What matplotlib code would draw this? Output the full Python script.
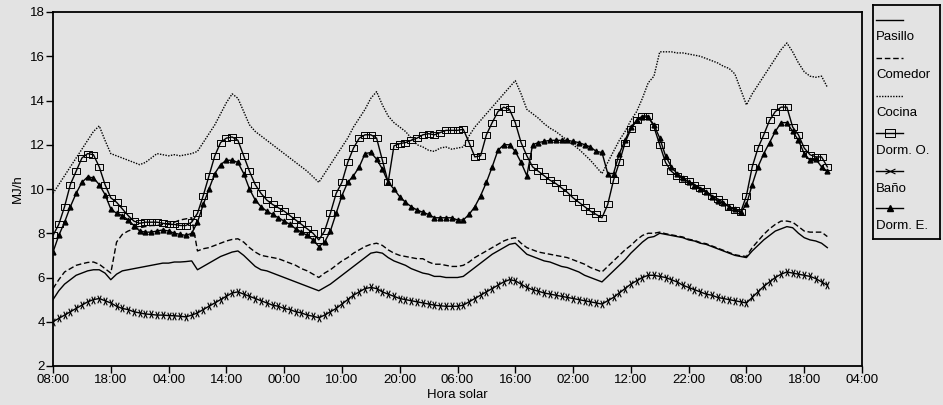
import numpy as np
import matplotlib
matplotlib.use("Agg")
import matplotlib.pyplot as plt
from matplotlib.path import Path

# ---------------- data (hourly, starting 08:00 day 1) ----------------
tick_labels = ["08:00", "18:00", "04:00", "14:00", "00:00", "10:00", "20:00",
               "06:00", "16:00", "02:00", "12:00", "22:00", "08:00", "18:00", "04:00"]
series_names = ["Pasillo", "Comedor", "Cocina", "Dorm. O.", "Baño", "Dorm. E."]

pasillo = [5.0, 5.4, 5.7, 5.9, 6.1, 6.2, 6.3, 6.35, 6.35, 6.2,
           5.9, 6.15, 6.3, 6.35, 6.4, 6.45, 6.5, 6.55, 6.6, 6.65,
           6.65, 6.7, 6.7, 6.72, 6.75, 6.35, 6.5, 6.65, 6.8, 6.95,
           7.05, 7.15, 7.2, 7.0, 6.75, 6.5, 6.35, 6.3, 6.2, 6.1,
           6.0, 5.9, 5.8, 5.7, 5.6, 5.5, 5.4, 5.55, 5.7, 5.9,
           6.1, 6.3, 6.5, 6.7, 6.9, 7.1, 7.15, 7.1, 6.9, 6.75,
           6.65, 6.55, 6.4, 6.3, 6.2, 6.15, 6.05, 6.05, 6.0, 6.0,
           6.0, 6.05, 6.25, 6.45, 6.65, 6.85, 7.05, 7.2, 7.35, 7.5,
           7.55, 7.3, 7.05, 6.95, 6.85, 6.75, 6.7, 6.6, 6.5, 6.45,
           6.35, 6.25, 6.1, 6.0, 5.9, 5.8, 6.05, 6.3, 6.55, 6.8,
           7.1, 7.35, 7.6, 7.8, 7.85, 8.0, 7.95, 7.9, 7.85, 7.8,
           7.7, 7.65, 7.55, 7.5, 7.4, 7.3, 7.2, 7.1, 7.0, 6.95,
           6.9, 7.2, 7.45, 7.7, 7.9, 8.1, 8.2, 8.3, 8.25, 8.0,
           7.8, 7.7, 7.65, 7.55, 7.35]

comedor = [5.5, 5.9, 6.25, 6.4, 6.55, 6.62, 6.68, 6.7, 6.6, 6.4,
           6.2, 7.6, 7.95, 8.1, 8.2, 8.25, 8.3, 8.35, 8.35, 8.4,
           8.45, 8.5, 8.6, 8.65, 8.7, 7.2, 7.3, 7.35, 7.45, 7.55,
           7.65, 7.72, 7.75, 7.6, 7.35, 7.15, 7.0, 6.95, 6.9, 6.85,
           6.75, 6.65, 6.55, 6.4, 6.3, 6.15, 6.0, 6.2, 6.35, 6.55,
           6.75, 6.9, 7.1, 7.25, 7.4, 7.5, 7.55, 7.45, 7.25, 7.1,
           7.0, 6.95, 6.9, 6.85, 6.85, 6.7, 6.6, 6.6, 6.55, 6.5,
           6.5, 6.55, 6.7, 6.9, 7.05, 7.2, 7.35, 7.5, 7.65, 7.75,
           7.8, 7.55, 7.35, 7.25, 7.15, 7.1, 7.05, 7.0, 6.95, 6.9,
           6.8, 6.7, 6.6, 6.45, 6.35, 6.25, 6.5, 6.75, 7.0, 7.25,
           7.45, 7.7, 7.9, 8.0, 8.0, 8.05, 7.98, 7.93, 7.88, 7.83,
           7.73, 7.68, 7.58, 7.53, 7.43, 7.33, 7.23, 7.13, 7.03, 6.98,
           6.95, 7.35, 7.65, 7.95, 8.2, 8.4, 8.55, 8.55, 8.5, 8.3,
           8.1, 8.05, 8.05, 8.05, 7.85]

cocina = [9.8, 10.2, 10.6, 11.0, 11.4, 11.8, 12.2, 12.6, 12.85, 12.2,
          11.6, 11.5, 11.4, 11.3, 11.2, 11.1, 11.2, 11.4, 11.6, 11.55,
          11.5, 11.55, 11.5, 11.55, 11.6, 11.7, 12.1, 12.5, 12.9, 13.4,
          13.9, 14.3, 14.1, 13.5, 12.9, 12.6, 12.4, 12.2, 12.0, 11.8,
          11.6, 11.4, 11.2, 11.0, 10.8, 10.55, 10.3, 10.7, 11.1, 11.5,
          11.9, 12.3, 12.8, 13.2, 13.6, 14.1, 14.4, 13.8, 13.3, 13.0,
          12.8, 12.6, 12.3, 12.0, 11.9, 11.75, 11.7, 11.85, 11.9, 11.8,
          11.85, 11.9, 12.4, 12.8, 13.1, 13.4, 13.7, 14.0, 14.3, 14.6,
          14.9, 14.3, 13.6, 13.4, 13.2, 12.95, 12.75, 12.6, 12.4, 12.2,
          12.0, 11.8, 11.55, 11.3, 11.0, 10.7, 11.2, 11.7, 12.2, 12.6,
          13.1, 13.5, 14.1, 14.8, 15.1, 16.2, 16.2, 16.2, 16.15, 16.15,
          16.1, 16.05, 16.0, 15.9, 15.8, 15.7, 15.55, 15.45, 15.2, 14.5,
          13.8, 14.3, 14.7, 15.1, 15.5, 15.9, 16.3, 16.6, 16.2, 15.7,
          15.3, 15.1, 15.05, 15.1, 14.6]

dorm_o = [7.9, 8.4, 9.2, 10.2, 10.8, 11.4, 11.6, 11.55, 11.0, 10.2,
          9.6, 9.4, 9.1, 8.8, 8.55, 8.45, 8.5, 8.5, 8.5, 8.45,
          8.4, 8.4, 8.35, 8.35, 8.5, 8.9, 9.7, 10.6, 11.5, 12.1,
          12.3, 12.35, 12.2, 11.5, 10.8, 10.2, 9.8, 9.5, 9.3, 9.15,
          9.0, 8.8, 8.6, 8.4, 8.2, 8.0, 7.7, 8.1, 8.9, 9.8,
          10.3, 11.2, 11.85, 12.3, 12.45, 12.45, 12.3, 11.3, 10.3, 11.95,
          12.05, 12.1, 12.2, 12.3, 12.45, 12.5, 12.45, 12.55, 12.65, 12.65,
          12.65, 12.7, 12.1, 11.45, 11.5, 12.45, 13.0, 13.5, 13.7, 13.6,
          13.0, 12.1, 11.5, 11.0, 10.8, 10.6, 10.4, 10.25, 10.05, 9.85,
          9.6, 9.4, 9.2, 9.0, 8.85, 8.7, 9.3, 10.4, 11.2, 12.1,
          12.7, 13.1, 13.3, 13.3, 12.8, 12.0, 11.2, 10.8, 10.6, 10.45,
          10.35, 10.2, 10.05, 9.9, 9.7, 9.55, 9.4, 9.2, 9.05, 8.95,
          9.7, 11.0, 11.85, 12.45, 13.1, 13.5, 13.7, 13.7, 12.8, 12.45,
          11.85, 11.55, 11.45, 11.45, 11.0]

bano = [4.0, 4.15, 4.3, 4.45, 4.6, 4.75, 4.9, 5.0, 5.05, 4.95,
        4.85, 4.7, 4.6, 4.55, 4.45, 4.4, 4.35, 4.33, 4.3, 4.3,
        4.28, 4.27, 4.25, 4.22, 4.3, 4.4, 4.55, 4.7, 4.85, 5.0,
        5.15, 5.3, 5.35, 5.25, 5.15, 5.05, 4.95, 4.85, 4.75, 4.7,
        4.6, 4.55, 4.45, 4.4, 4.3, 4.25, 4.18, 4.3, 4.45, 4.6,
        4.8, 5.0, 5.2, 5.35, 5.5, 5.55, 5.5, 5.35, 5.25, 5.15,
        5.05, 5.0, 4.95, 4.9, 4.85, 4.8, 4.75, 4.72, 4.7, 4.7,
        4.7, 4.75, 4.9, 5.05, 5.2, 5.35, 5.5, 5.65, 5.8, 5.9,
        5.85, 5.7, 5.55, 5.45, 5.38, 5.3, 5.25, 5.2, 5.15, 5.1,
        5.05, 5.0, 4.95, 4.9, 4.85, 4.8, 4.95, 5.1, 5.3, 5.5,
        5.7, 5.85, 6.0, 6.1, 6.1, 6.05, 6.0, 5.9, 5.8, 5.65,
        5.55, 5.45, 5.35, 5.25, 5.2, 5.1, 5.05, 5.0, 4.95, 4.9,
        4.85, 5.1, 5.35, 5.6, 5.8, 6.0, 6.15, 6.25, 6.2, 6.15,
        6.1, 6.05, 5.95, 5.8, 5.65]

dorm_e = [7.15, 7.9, 8.5, 9.2, 9.8, 10.3, 10.55, 10.5, 10.2, 9.75,
          9.1, 8.9, 8.8, 8.6, 8.35, 8.1, 8.05, 8.05, 8.1, 8.15,
          8.1, 8.0, 7.95, 7.9, 8.0, 8.5, 9.3, 10.0, 10.7, 11.1,
          11.3, 11.3, 11.2, 10.7, 10.0, 9.5, 9.2, 9.0, 8.85, 8.7,
          8.55, 8.4, 8.2, 8.05, 7.9, 7.7, 7.4, 7.6, 8.1, 8.9,
          9.7, 10.3, 10.6, 11.0, 11.6, 11.65, 11.35, 10.9, 10.3, 10.0,
          9.65, 9.4, 9.2, 9.05, 8.95, 8.85, 8.7, 8.7, 8.7, 8.7,
          8.6, 8.6, 8.85, 9.2, 9.7, 10.3, 11.0, 11.75, 12.0, 12.0,
          11.7, 11.2, 10.6, 12.0, 12.1, 12.15, 12.2, 12.2, 12.2, 12.2,
          12.15, 12.1, 12.0, 11.9, 11.7, 11.65, 10.7, 10.7, 11.6, 12.2,
          12.8, 13.1, 13.25, 13.25, 12.9, 12.3, 11.5, 11.0, 10.7, 10.5,
          10.3, 10.15, 10.0, 9.85, 9.65, 9.45, 9.35, 9.2, 9.1, 8.95,
          9.3, 10.2, 11.0, 11.6, 12.1, 12.6, 13.0, 13.0, 12.6, 12.2,
          11.6, 11.3, 11.35, 11.0, 10.8]

# ---------------- styles ----------------
BG = "#e3e3e3"
rect_marker = Path([(-1.35, -1), (1.35, -1), (1.35, 1), (-1.35, 1), (-1.35, -1)],
                   [Path.MOVETO, Path.LINETO, Path.LINETO, Path.LINETO, Path.CLOSEPOLY])
cross_marker = Path([(-0.45, -1), (0.45, 1), (0.45, -1), (-0.45, 1)],
                    [Path.MOVETO, Path.LINETO, Path.MOVETO, Path.LINETO])
legend_cross = Path([(-1, -0.5), (1, 0.5), (-1, 0.5), (1, -0.5)],
                    [Path.MOVETO, Path.LINETO, Path.MOVETO, Path.LINETO])

styles = [
    dict(color="black", lw=1.0, ls="-"),
    dict(color="black", lw=1.0, ls=(0, (4, 2))),
    dict(color="black", lw=1.0, ls=(0, (1, 1))),
    dict(color="black", lw=1.0, ls="-", marker=rect_marker, ms=5.8,
         mfc="none", mec="black", mew=0.7),
    dict(color="black", lw=1.0, ls="-", marker=cross_marker, ms=5.5,
         mec="black", mew=0.8),
    dict(color="black", lw=1.0, ls="-", marker="^", ms=3.5,
         mfc="black", mec="black"),
]
legend_markers = [None, None, None, rect_marker, legend_cross, "^"]
data = [pasillo, comedor, cocina, dorm_o, bano, dorm_e]

plt.rcParams["font.family"] = ["Liberation Sans", "DejaVu Sans"]

fig = plt.figure(figsize=(9.43, 4.05), dpi=100, facecolor=BG)
ax = fig.add_axes([53 / 943, (405 - 366) / 405, 809 / 943, 354 / 405])
ax.set_facecolor(BG)

for vals, st in zip(data, styles):
    ax.plot(np.arange(len(vals)), vals, **st)

ax.set_xlim(0, 140)
ax.set_ylim(2, 18)
ax.set_xticks(np.arange(0, 141, 10))
ax.set_xticklabels(tick_labels)
ax.set_yticks(np.arange(2, 19, 2))
ax.tick_params(axis="both", direction="out", length=5, width=1.0,
               labelsize=9.5, colors="black")
ax.tick_params(axis="x", pad=1)
ax.tick_params(axis="y", pad=1)
for s in ax.spines.values():
    s.set_linewidth(1.3)
ax.set_xlabel("Hora solar", fontsize=9.5, labelpad=2)
ax.set_ylabel("MJ/h", fontsize=9.5, labelpad=4)

# ---------------- legend (handle above label) ----------------
lx0, lx1, ly0, ly1 = 873, 940, 5, 239
lax = fig.add_axes([lx0 / 943, (405 - ly1) / 405, (lx1 - lx0) / 943, (ly1 - ly0) / 405])
lax.set_facecolor(BG)
lax.set_xlim(lx0, lx1)
lax.set_ylim(ly1, ly0)
lax.set_xticks([])
lax.set_yticks([])
for s in lax.spines.values():
    s.set_linewidth(1.3)

handle_y = [20, 58, 96, 133, 171, 208]
label_y = [37, 75, 113, 151, 189, 226]
for name, st, lm, hy, ty in zip(series_names, styles, legend_markers, handle_y, label_y):
    line_kw = {k: v for k, v in st.items() if k not in ("marker", "ms", "mfc", "mec", "mew")}
    lax.plot([876, 903], [hy, hy], **line_kw)
    if lm is not None:
        lax.plot([889.5], [hy], ls="none", marker=lm, ms=st["ms"] * 1.3,
                 mfc=st.get("mfc", "black"), mec=st.get("mec", "black"),
                 mew=st.get("mew", 1.0))
    lax.text(876, ty, name, fontsize=9.5, va="center", ha="left")

fig.savefig("out.png", dpi=100, facecolor=BG)
